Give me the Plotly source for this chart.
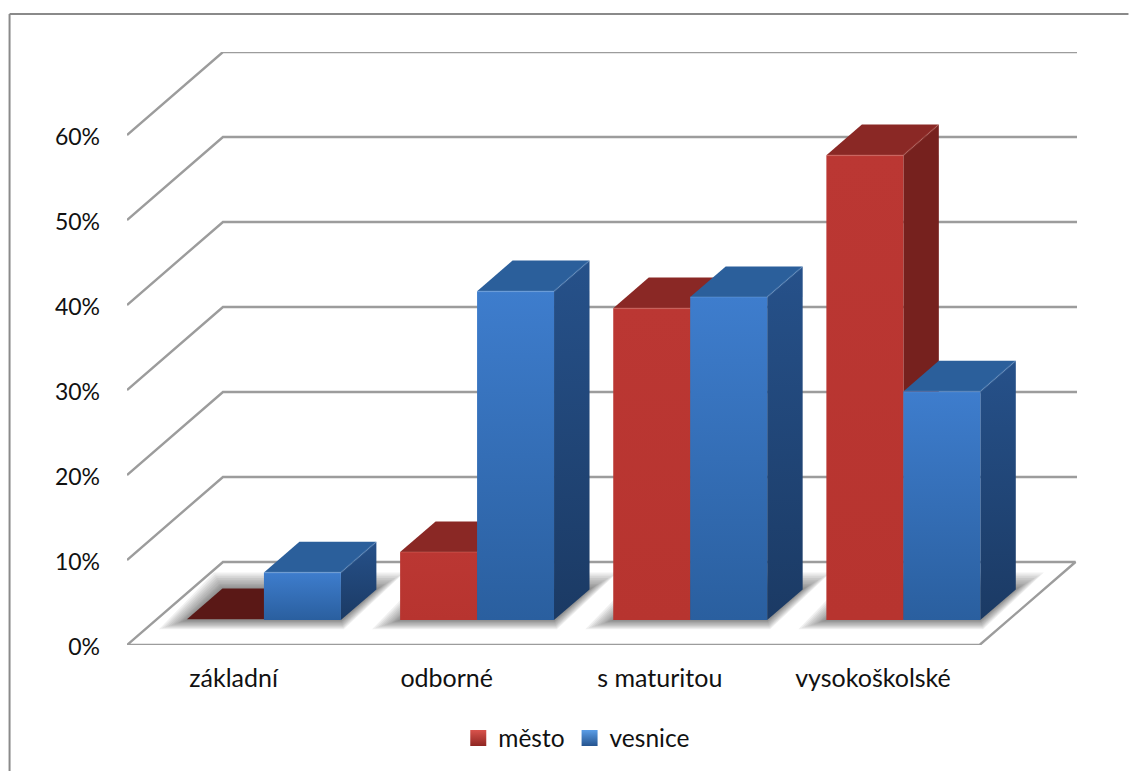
import plotly.graph_objects as go

categories = ["základní", "odborné", "s maturitou", "vysokoškolské"]
mesto = [0.001, 0.08, 0.367, 0.547]
vesnice = [0.056, 0.387, 0.38, 0.269]
y_ticks = [0, 0.1, 0.2, 0.3, 0.4, 0.5, 0.6]

# page geometry (pixels) -> axis units
W, H = 1129, 771
X0, Y0 = 127, 645
CAT_PX, UNIT_PX = 213.25, 850.0
DX, DY = 96.0 / CAT_PX, 83.0 / UNIT_PX     # full depth of the floor in axis units
X_MAX = (1077.5 - X0) / CAT_PX
Y_MAX = (Y0 - 52) / UNIT_PX
GAP, BAR_W = 31.2 / CAT_PX, 77.0 / CAT_PX
D0, D1 = 0.30, 0.67
LABEL_POS = [0.5, 1.5, 2.5, 3.5]
FONT = "Lato"
GRID = "#9c9c9c"


def p(x, y, d=0.0):
    return x + d * DX, y + d * DY


def poly(points, **kw):
    xs, ys = zip(*(points + [points[0]]))
    return go.Scatter(x=list(xs), y=list(ys), mode="lines", fill="toself", hoverinfo="skip",
                      showlegend=False, cliponaxis=False, **kw)


def vgrad(top, bottom):
    return dict(type="vertical", colorscale=[[0, bottom], [1, top]])


STYLE = {
    "mesto": dict(front=("#bb3733", "#b7342f"), top="#8a2825", side="#76211e",
                  edge="rgba(255,170,160,0.12)", zero="#5a1816"),
    "vesnice": dict(front=("#3e7dcd", "#2a5f9f"), top="#2b5f9b", side=("#26518a", "#1b3a64"),
                    edge="rgba(170,210,255,0.12)", zero="#2b5f9b"),
}

fig = go.Figure()

# walls and floor: one polyline per gridline level
for v in y_ticks[1:]:
    a, b, c = p(0, v), p(0, v, 1), p(X_MAX - DX, v, 1)
    fig.add_trace(go.Scatter(x=[a[0], b[0], c[0]], y=[a[1], b[1], c[1]], mode="lines",
                             line=dict(color=GRID, width=2.4), hoverinfo="skip", showlegend=False,
                             cliponaxis=False))
floor = [p(0, 0), p(0, 0, 1), p(4, 0, 1), p(4, 0)]
fig.add_trace(go.Scatter(x=[q[0] for q in floor + floor[:1]], y=[q[1] for q in floor + floor[:1]],
                         mode="lines", line=dict(color=GRID, width=2.4), hoverinfo="skip",
                         showlegend=False, cliponaxis=False))

# soft shadows on the floor
for i in range(len(categories)):
    xl = i + GAP
    xr = xl + 2 * BAR_W
    for grow in [28, 25, 22, 19, 16, 13, 10, 8, 6, 4, 2]:
        gx, gy = grow / CAT_PX, grow * 0.6 / UNIT_PX
        pts = [p(xl - gx, -gy * 0.55, D0), p(xl - gx * 0.3, gy, D1),
               p(xr + gx, gy, D1), p(xr + gx * 0.1, -gy * 0.55, D0)]
        fig.add_trace(poly(pts, line=dict(width=0), fillcolor="rgba(90,90,90,0.09)"))


def add_bar(x, v, st):
    w = BAR_W
    fl, fr = p(x, 0, D0), p(x + w, 0, D0)
    tl, tr = p(x, v, D0), p(x + w, v, D0)
    bl, br = p(x, v, D1), p(x + w, v, D1)
    sb = p(x + w, 0, D1)
    if v < 0.005:
        fig.add_trace(poly([tl, bl, br, tr], line=dict(width=0), fillcolor=st["zero"]))
        return
    side = st["side"]
    if isinstance(side, tuple):
        fig.add_trace(poly([fr, tr, br, sb], line=dict(width=0), fillgradient=vgrad(*side)))
    else:
        fig.add_trace(poly([fr, tr, br, sb], line=dict(width=0), fillcolor=side))
    fig.add_trace(poly([tl, bl, br, tr], line=dict(width=0), fillcolor=st["top"]))
    fig.add_trace(poly([fl, tl, tr, fr], line=dict(width=0), fillgradient=vgrad(*st["front"])))
    # bevel highlight along the front top edge
    fig.add_trace(go.Scatter(x=[tl[0], tr[0], br[0]], y=[tl[1], tr[1], br[1]], mode="lines",
                             line=dict(color=st["edge"], width=2), hoverinfo="skip",
                             showlegend=False, cliponaxis=False))


for i in range(len(categories)):
    add_bar(i + GAP, mesto[i], STYLE["mesto"])
    add_bar(i + GAP + BAR_W, vesnice[i], STYLE["vesnice"])

# legend entries
for name, c1, c2 in [("město", "#d9534c", "#8f2622"), ("vesnice", "#5b9ee8", "#25548f")]:
    fig.add_trace(go.Scatter(x=[None], y=[None], mode="markers", name=name, hoverinfo="skip",
                             marker=dict(symbol="square", size=16, color=c1,
                                         gradient=dict(type="vertical", color=c2),
                                         line=dict(width=0))))

PW, PH = 1077.5 - X0, Y0 - 52
fig.update_layout(
    width=W, height=H,
    margin=dict(l=X0, r=W - 1077.5, t=52, b=H - Y0, pad=0, autoexpand=False),
    paper_bgcolor="white", plot_bgcolor="white",
    font=dict(family=FONT, size=23, color="#111111"),
    xaxis=dict(range=[0, X_MAX], tickmode="array", tickvals=LABEL_POS, ticktext=categories,
               tickfont=dict(family=FONT, size=25, color="#111111"),
               showgrid=False, zeroline=False, showline=False, ticks="", ticklabelstandoff=16,
               fixedrange=True),
    yaxis=dict(range=[0, Y_MAX], tickmode="array", tickvals=y_ticks,
               ticktext=[f"{round(v * 100)}%" for v in y_ticks],
               showgrid=False, zeroline=False, showline=False, ticks="", ticklabelstandoff=26,
               ticklabelshift=2, fixedrange=True),
    legend=dict(orientation="h", x=(577 - X0) / PW, xref="paper", y=(Y0 - 738) / PH, yref="paper",
                xanchor="center", yanchor="middle", bgcolor="rgba(0,0,0,0)", itemclick=False,
                itemdoubleclick=False, font=dict(family=FONT, size=24.5, color="#111111")),
    shapes=[
        dict(type="line", xref="paper", yref="paper",
             x0=(9.5 - X0) / PW, x1=(W - X0) / PW,
             y0=(Y0 - 14) / PH, y1=(Y0 - 14) / PH,
             line=dict(color="#8a8a8a", width=2)),
        dict(type="line", xref="paper", yref="paper",
             x0=(9.5 - X0) / PW, x1=(9.5 - X0) / PW,
             y0=(Y0 - 14) / PH, y1=(Y0 - H) / PH,
             line=dict(color="#8a8a8a", width=2)),
    ],
)
fig.write_html("out.html", config={"displayModeBar": False},
               post_script="document.body.style.margin='0';document.body.style.overflow='hidden';")
